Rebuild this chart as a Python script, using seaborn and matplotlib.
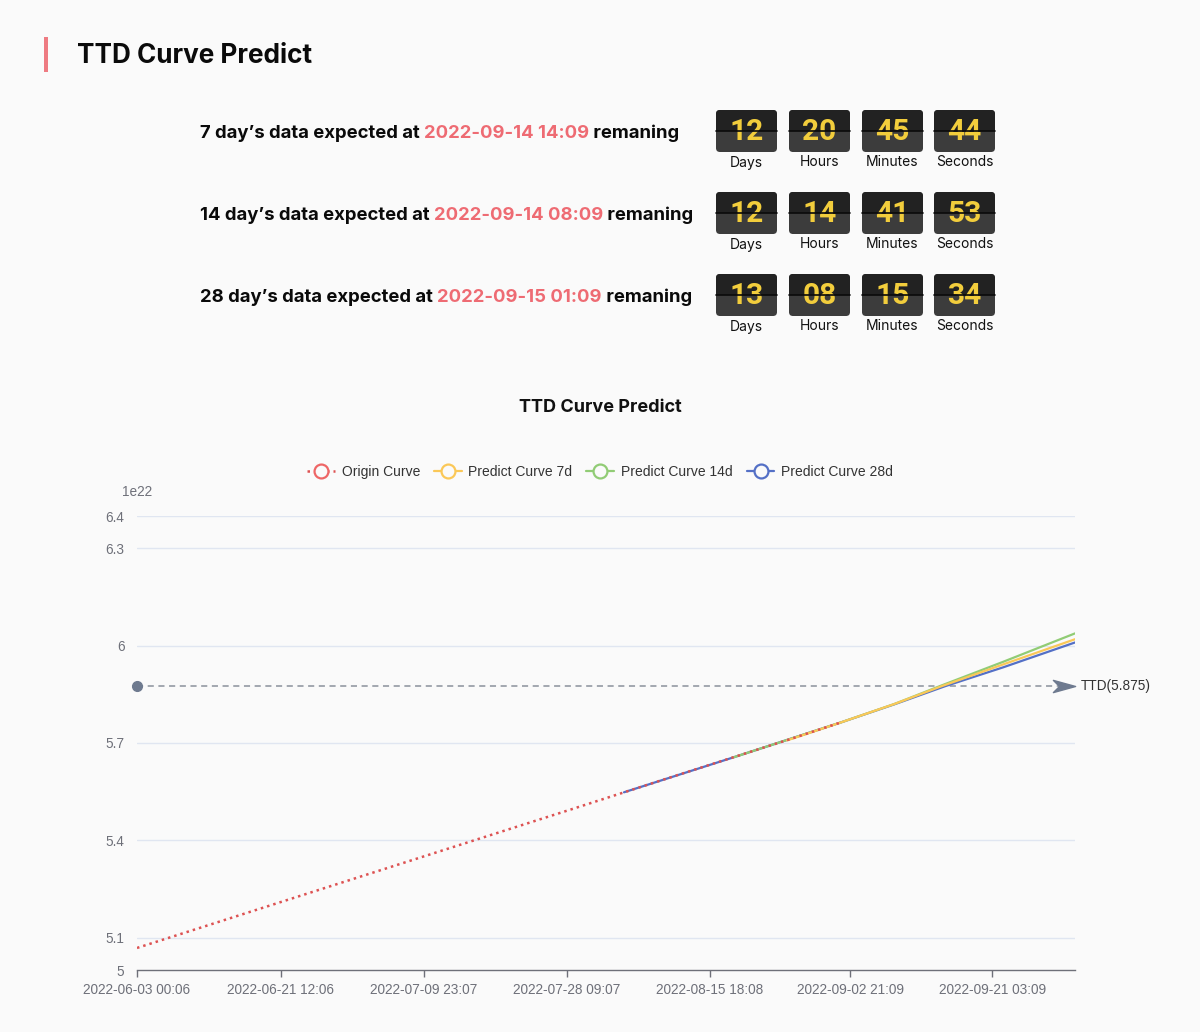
import matplotlib
matplotlib.use("Agg")
import matplotlib.pyplot as plt
import matplotlib.dates as mdates
from matplotlib.patches import FancyBboxPatch, Rectangle
from matplotlib.lines import Line2D
from matplotlib.path import Path
import seaborn as sns
import pandas as pd

# ---------------- data ----------------
origin_dates = ["2022-06-03 00:06", "2022-06-17 00:00", "2022-07-01 00:00", "2022-07-15 00:00",
                "2022-07-29 00:00", "2022-08-12 00:00", "2022-08-26 00:00", "2022-09-01 17:09"]
origin_values = [5.068, 5.175, 5.282, 5.389, 5.496, 5.604, 5.711, 5.764]

pred7_dates = ["2022-08-25 17:09", "2022-09-01 17:09", "2022-09-08 12:00", "2022-09-14 14:09",
               "2022-09-22 12:00", "2022-10-01 19:00"]
pred7_values = [5.708, 5.764, 5.820, 5.875, 5.942, 6.020]

pred14_dates = ["2022-08-18 17:09", "2022-09-01 17:09", "2022-09-08 12:00", "2022-09-14 08:09",
                "2022-09-22 12:00", "2022-10-01 19:00"]
pred14_values = [5.655, 5.764, 5.820, 5.875, 5.950, 6.038]

pred28_dates = ["2022-08-04 17:09", "2022-08-18 17:09", "2022-09-01 17:09", "2022-09-08 12:00",
                "2022-09-15 01:09", "2022-09-22 12:00", "2022-10-01 19:00"]
pred28_values = [5.548, 5.655, 5.764, 5.819, 5.875, 5.933, 6.010]

ttd_value = 5.875
x_start, x_end = "2022-06-03 00:06", "2022-10-01 19:00"
x_tick_labels = ["2022-06-03 00:06", "2022-06-21 12:06", "2022-07-09 23:07", "2022-07-28 09:07",
                 "2022-08-15 18:08", "2022-09-02 21:09", "2022-09-21 03:09"]
y_ticks = [5, 5.1, 5.4, 5.7, 6, 6.3, 6.4]
y_tick_labels = ["5", "5.1", "5.4", "5.7", "6", "6.3", "6.4"]

series_names = ["Origin Curve", "Predict Curve 7d", "Predict Curve 14d", "Predict Curve 28d"]
series_colors = ["#ee6666", "#fac858", "#91cc75", "#5470c6"]

row_windows = ["7", "14", "28"]
row_expected = ["2022-09-14 14:09", "2022-09-14 08:09", "2022-09-15 01:09"]
row_days = ["12", "12", "13"]
row_hours = ["20", "14", "08"]
row_minutes = ["45", "41", "15"]
row_seconds = ["44", "53", "34"]
unit_labels = ["Days", "Hours", "Minutes", "Seconds"]

# ---------------- figure ----------------
sns.set_theme(style="white")
plt.rcParams["font.family"] = ["Liberation Sans", "DejaVu Sans"]
W, H = 1200, 1032
BG = "#fafafa"
fig = plt.figure(figsize=(W / 100, H / 100), dpi=100, facecolor=BG)

# overlay in pixel coordinates for the header / countdown
ov = fig.add_axes([0, 0, 1, 1], zorder=0)
ov.set_xlim(0, W)
ov.set_ylim(H, 0)
ov.axis("off")
ov.patch.set_alpha(0)

ov.add_patch(Rectangle((44, 37), 4, 35, color="#ee7b82", lw=0))
ov.text(77, 56, "TTD Curve Predict", fontsize=18.8, fontweight="bold", family=["Inter", "DejaVu Sans"],
        color="#0a0a0a", va="center", ha="left")

fig.canvas.draw()
renderer = fig.canvas.get_renderer()

row_y = [133, 215, 297]
tile_x = [716, 789, 862, 934]
tile_top = [110, 192, 274]
tw, th = 61, 42
for i in range(3):
    parts = [(f"{row_windows[i]} day\u2019s data expected at ", "#0a0a0a"),
             (row_expected[i], "#ee6b73"),
             (" remaning", "#0a0a0a")]
    x = 200
    for s, c in parts:
        t = ov.text(x, row_y[i], s, fontsize=13.3, fontweight="bold", family=["Inter", "DejaVu Sans"],
                    color=c, va="center", ha="left")
        bb = t.get_window_extent(renderer=renderer)
        x += bb.width
    vals = [row_days[i], row_hours[i], row_minutes[i], row_seconds[i]]
    for j in range(4):
        x0, y0 = tile_x[j], tile_top[i]
        bot = FancyBboxPatch((x0, y0), tw, th, boxstyle="round,pad=0,rounding_size=4",
                             fc="#3c3c3c", ec="none", zorder=2)
        ov.add_patch(bot)
        top = FancyBboxPatch((x0, y0), tw, th, boxstyle="round,pad=0,rounding_size=4",
                             fc="#222222", ec="none", zorder=3)
        ov.add_patch(top)
        clip = Rectangle((x0, y0), tw, th / 2, transform=ov.transData)
        top.set_clip_path(clip)
        ov.text(x0 + tw / 2, y0 + th / 2 + 1.5, vals[j], fontsize=21.5, fontweight="bold",
                family=["Roboto", "DejaVu Sans"], color="#f2cd3c", ha="center", va="center", zorder=4)
        ov.plot([x0, x0 + tw], [y0 + th / 2, y0 + th / 2], color="#0a0a0a", lw=1.2, zorder=5)
        ov.text(x0 + tw / 2, y0 + th + 10.5, unit_labels[j], fontsize=10, color="#111111",
                family=["Inter", "DejaVu Sans"], ha="center", va="center", zorder=4)

# chart title
ov.text(600, 408, "TTD Curve Predict", fontsize=13, fontweight="bold", color="#111111",
        ha="center", va="center", family=["Inter", "DejaVu Sans"])

# ---------------- main chart ----------------
ax = fig.add_axes([137 / W, 62 / H, 938 / W, 454 / H], zorder=1)
ax.set_facecolor("none")

df_o = pd.DataFrame({"date": pd.to_datetime(origin_dates), "value": origin_values})
df_7 = pd.DataFrame({"date": pd.to_datetime(pred7_dates), "value": pred7_values})
df_14 = pd.DataFrame({"date": pd.to_datetime(pred14_dates), "value": pred14_values})
df_28 = pd.DataFrame({"date": pd.to_datetime(pred28_dates), "value": pred28_values})

sns.lineplot(data=df_28, x="date", y="value", ax=ax, color=series_colors[3], lw=1.6, zorder=2)
sns.lineplot(data=df_14, x="date", y="value", ax=ax, color=series_colors[2], lw=1.6, zorder=3)
sns.lineplot(data=df_7, x="date", y="value", ax=ax, color=series_colors[1], lw=1.6, zorder=4)
sns.lineplot(data=df_o, x="date", y="value", ax=ax, color="#dd5252", lw=1.8,
             linestyle=(0, (1, 1.6)), zorder=5)

xs, xe = pd.Timestamp(x_start), pd.Timestamp(x_end)
ax.set_xlim(xs, xe)
ax.set_ylim(y_ticks[0], y_ticks[-1])

# TTD mark line
ttd_col = "#6e7a8f"
ax.plot([xs, xe - pd.Timedelta(hours=50)], [ttd_value, ttd_value], color="#8a919c", lw=1.1,
        linestyle=(0, (4, 3)), zorder=1)
ax.plot([xs], [ttd_value], marker="o", ms=7, color=ttd_col, mec=ttd_col, zorder=6, clip_on=False)
arrow = Path([(-1, -0.55), (1, 0), (-1, 0.55), (-0.45, 0), (-1, -0.55)],
             [Path.MOVETO, Path.LINETO, Path.LINETO, Path.LINETO, Path.CLOSEPOLY])
ax.plot([xe - pd.Timedelta(hours=34)], [ttd_value], marker=arrow, ms=16, color=ttd_col, mec=ttd_col,
        zorder=6, clip_on=False)
ax.annotate(f"TTD({ttd_value})", xy=(xe, ttd_value), xytext=(4, 0), textcoords="offset points",
            fontsize=9.8, color="#333333", va="center", ha="left", annotation_clip=False)

# axes styling
ax.set_xticks(pd.to_datetime(x_tick_labels))
ax.set_xticklabels(x_tick_labels)
ax.set_yticks(y_ticks)
ax.set_yticklabels(y_tick_labels)
ax.set_xlabel("")
ax.set_ylabel("")
for s in ["top", "right", "left"]:
    ax.spines[s].set_visible(False)
ax.spines["bottom"].set_color("#6e7079")
ax.spines["bottom"].set_linewidth(1)
ax.tick_params(axis="x", colors="#6e7079", labelsize=9.8, length=5, width=1, pad=4, direction="out",
               bottom=True)
ax.tick_params(axis="y", colors="#6e7079", labelsize=9.8, length=0, pad=9)
ax.grid(False)
for yv in y_ticks[1:]:
    ax.axhline(yv, color="#e0e6f1", lw=1, zorder=0)
ax.annotate("1e22", xy=(0, 1), xycoords="axes fraction", xytext=(0, 17), textcoords="offset points",
            fontsize=9.8, color="#6e7079", ha="center", va="center")

# legend
handles = [
    Line2D([0], [0], color="#dd5252", lw=1.8, linestyle=(0, (1, 1.6)), marker="o", ms=10,
           mfc=BG, mec=series_colors[0], mew=1.6),
    Line2D([0], [0], color=series_colors[1], lw=1.6, marker="o", ms=10, mfc=BG, mec=series_colors[1], mew=1.6),
    Line2D([0], [0], color=series_colors[2], lw=1.6, marker="o", ms=10, mfc=BG, mec=series_colors[2], mew=1.6),
    Line2D([0], [0], color=series_colors[3], lw=1.6, marker="o", ms=10, mfc=BG, mec=series_colors[3], mew=1.6),
]
leg = fig.legend(handles, series_names, loc="center", bbox_to_anchor=(0.5, 1 - 472 / H), ncol=4,
                 frameon=False, fontsize=10, handlelength=2.0, handletextpad=0.5, columnspacing=1.0,
                 labelcolor="#333333")

fig.savefig("out.png", dpi=100, facecolor=BG)
